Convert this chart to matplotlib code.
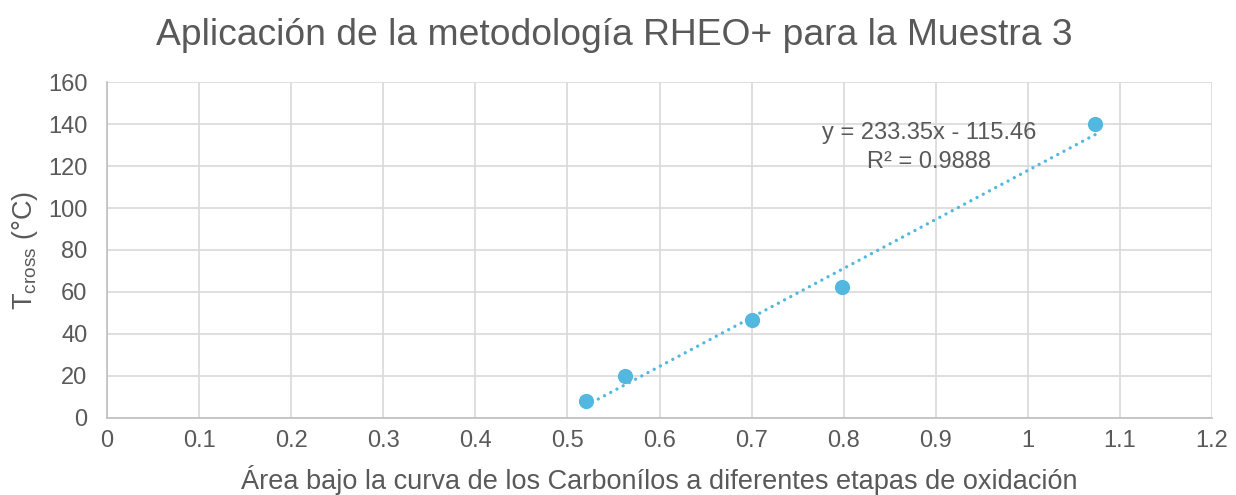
import matplotlib

matplotlib.use("Agg")
import matplotlib.pyplot as plt
import numpy as np

# Data
area = [0.52, 0.562, 0.70, 0.798, 1.073]
t_cross = [8, 20, 46.5, 62.5, 140]
slope, intercept = 233.35, -115.46
r2 = 0.9888

x_ticks = [0, 0.1, 0.2, 0.3, 0.4, 0.5, 0.6, 0.7, 0.8, 0.9, 1, 1.1, 1.2]
x_tick_labels = ["0", "0.1", "0.2", "0.3", "0.4", "0.5", "0.6", "0.7", "0.8", "0.9", "1", "1.1", "1.2"]
y_ticks = [0, 20, 40, 60, 80, 100, 120, 140, 160]

plt.rcParams["font.family"] = ["Liberation Sans", "DejaVu Sans"]
plt.rcParams["mathtext.fontset"] = "custom"
plt.rcParams["mathtext.rm"] = "Liberation Sans"
plt.rcParams["mathtext.it"] = "Liberation Sans"

text_color = "#595959"
point_color = "#52B8E0"
grid_color = "#d9d9d9"

fig = plt.figure(figsize=(12.36, 4.95), dpi=100)
ax = fig.add_axes([0.0866, 0.1556, 0.894, 0.6787])

# Linear trendline across the data range (dotted, Excel style)
fit_x = np.array([min(area), max(area)])
ax.plot(fit_x, slope * fit_x + intercept, color=point_color, linewidth=2.4,
        linestyle=(0, (0.01, 2.1)), dash_capstyle="round", zorder=2)
ax.scatter(area, t_cross, s=120, color=point_color, zorder=3, linewidths=0)

ax.set_xlim(0, 1.2)
ax.set_ylim(0, 160)
ax.set_xticks(x_ticks)
ax.set_xticklabels(x_tick_labels)
ax.set_yticks(y_ticks)
ax.grid(True, color=grid_color, linewidth=1.2)
ax.set_axisbelow(True)
ax.tick_params(axis="y", length=0, labelsize=17, colors=text_color, pad=14)
ax.tick_params(axis="x", length=0, labelsize=17, colors=text_color, pad=9)
for side in ("top", "right"):
    ax.spines[side].set_visible(False)
for side in ("left", "bottom"):
    ax.spines[side].set_color("#bfbfbf")
    ax.spines[side].set_linewidth(1.2)

ax.set_xlabel("Área bajo la curva de los Carbonílos a diferentes etapas de oxidación",
              fontsize=19.5, color=text_color, labelpad=9)
ax.set_ylabel(r"T$_{\mathrm{cross}}$ (°C)", fontsize=19.5, color=text_color, labelpad=6)

ax.text(0.893, 129, f"y = {slope:.2f}x - {abs(intercept):.2f}\nR² = {r2:.4f}",
        fontsize=17, color=text_color, ha="center", va="center", linespacing=1.4)

fig.suptitle("Aplicación de la metodología RHEO+ para la Muestra 3", fontsize=26.8,
             color=text_color, x=0.497, y=0.963)

fig.savefig("out.png", dpi=100)
